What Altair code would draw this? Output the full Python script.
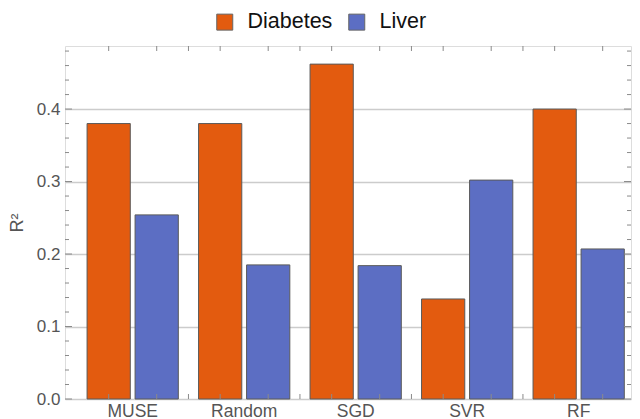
import altair as alt
import pandas as pd

categories = ["MUSE", "Random", "SGD", "SVR", "RF"]
series = ["Diabetes", "Liver"]
diabetes = [0.380, 0.380, 0.462, 0.138, 0.400]
liver = [0.254, 0.185, 0.184, 0.302, 0.207]
colors = ["#E35B0F", "#5C6EC3"]
y_labels = [0.0, 0.1, 0.2, 0.3, 0.4]
y_minor = [0.02, 0.04, 0.06, 0.08, 0.12, 0.14, 0.16, 0.18, 0.22, 0.24, 0.26,
           0.28, 0.32, 0.34, 0.36, 0.38, 0.42, 0.44, 0.46, 0.48]
gap_methods = ["Random", "SGD", "SVR", "RF"]

rows = []
for i, m in enumerate(categories):
    rows.append({"method": m, "dataset": "Diabetes", "r2": diabetes[i]})
    rows.append({"method": m, "dataset": "Liver", "r2": liver[i]})
df = pd.DataFrame(rows)
major_df = pd.DataFrame({"r2": y_labels})
minor_df = pd.DataFrame({"r2": y_minor})
gap_df = pd.DataFrame({"method": gap_methods})

W, H = 566, 353
FONT = "Liberation Sans"
TICK = "#8a8a8a"

xscale = alt.Scale(domain=categories, paddingInner=0.1815, paddingOuter=0.129, align=0.767)
offscale = alt.Scale(domain=series, paddingInner=0.1, paddingOuter=0)
yscale = alt.Scale(domain=[0, 0.487], nice=False, zero=True)

xaxis = alt.Axis(title=None, labelAngle=0, labelFontSize=17.5, labelColor="#555555",
                 labelPadding=3, ticks=False, domain=False, labelFont=FONT)
yaxis = alt.Axis(values=y_labels, format=".1f", title="R²", grid=True,
                 gridColor="#cccccc", gridWidth=1.3, ticks=False, domain=False,
                 labelFontSize=17, labelColor="#555555", labelPadding=5, labelFont=FONT,
                 titleFontSize=18, titleColor="#555555", titleFontWeight="normal",
                 titleFont=FONT, titleX=-48, titleY=H / 2, titleAngle=-90,
                 titleBaseline="middle", titleAlign="center")

bars = alt.Chart(df).mark_bar(stroke="#5a5a5a", strokeWidth=1).encode(
    x=alt.X("method:N", scale=xscale, sort=categories, axis=xaxis),
    xOffset=alt.XOffset("dataset:N", scale=offscale, sort=series),
    y=alt.Y("r2:Q", scale=yscale, axis=yaxis),
    color=alt.Color("dataset:N", scale=alt.Scale(domain=series, range=colors),
                    legend=alt.Legend(title=None, orient="none", legendX=149, legendY=-35,
                                      direction="horizontal", symbolType="square", symbolSize=256,
                                      symbolStrokeColor="#666666", symbolStrokeWidth=1,
                                      labelFontSize=21.5, labelColor="#111111", labelOffset=12,
                                      columnPadding=13, padding=0, labelFont=FONT,
                                      symbolOpacity=1)),
)

def yticks(data, length):
    left = alt.Chart(data).mark_rule(color=TICK, strokeWidth=1).encode(
        x=alt.value(0), x2=alt.value(length),
        y=alt.Y("r2:Q", scale=yscale, axis=yaxis))
    right = alt.Chart(data).mark_rule(color=TICK, strokeWidth=1).encode(
        x=alt.value(W - length), x2=alt.value(W),
        y=alt.Y("r2:Q", scale=yscale, axis=yaxis))
    return left + right

def xcenter(y0, y1):
    return alt.Chart(df).mark_rule(color=TICK, strokeWidth=1).encode(
        x=alt.X("method:N", scale=xscale, sort=categories, axis=xaxis),
        xOffset=alt.XOffset("dataset:N", scale=offscale, sort=series),
        y=alt.value(y0), y2=alt.value(y1))

def xgap(y0, y1):
    return alt.Chart(gap_df).mark_rule(color=TICK, strokeWidth=1, xOffset=-10.1).encode(
        x=alt.X("method:N", scale=xscale, sort=categories, axis=xaxis, bandPosition=0),
        y=alt.value(y0), y2=alt.value(y1))

chart = alt.layer(
    bars,
    yticks(major_df, 7), yticks(minor_df, 4),
    xcenter(H - 5, H), xcenter(0, 5),
    xgap(H - 5, H), xgap(0, 5),
).properties(
    width=W, height=H,
    autosize=alt.AutoSizeParams(type="none"),
    padding={"left": 57, "top": 38, "right": 1, "bottom": 20},
).configure_view(stroke="#999999", strokeWidth=1.2).configure(font=FONT)

chart.save("out.html", embed_options={"renderer": "svg", "actions": False})
